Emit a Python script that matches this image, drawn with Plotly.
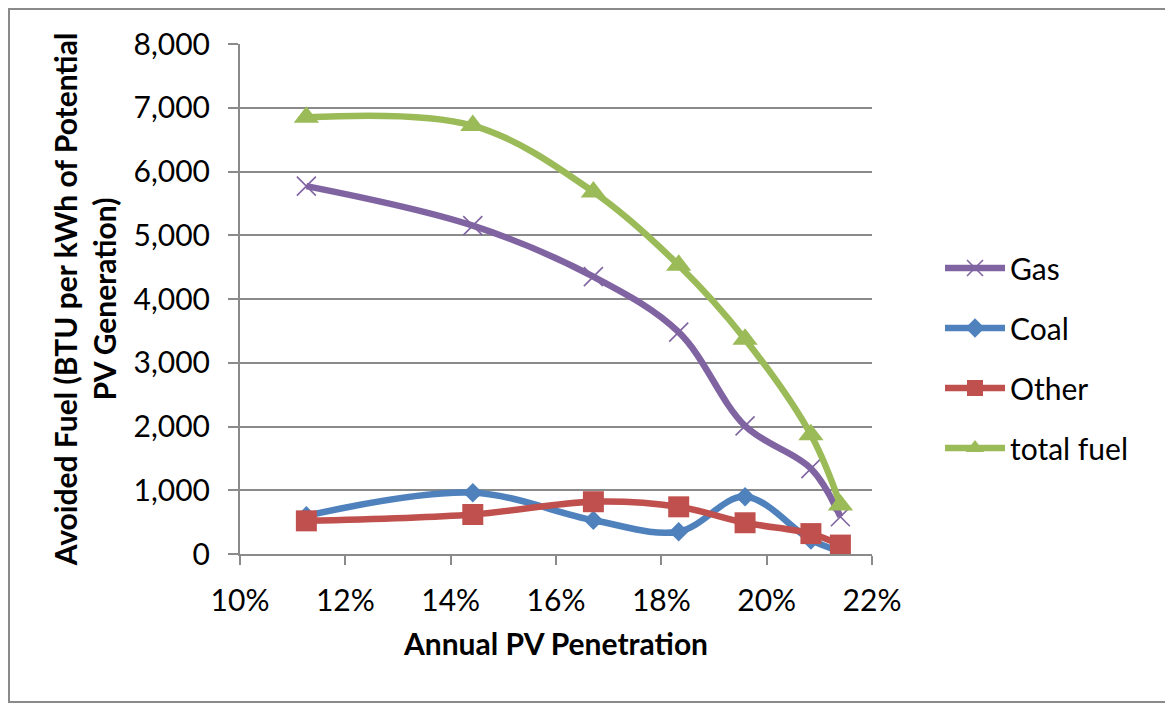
import plotly.graph_objects as go

# ---- data ----
penetration = [0.1126, 0.1442, 0.1671, 0.1833, 0.1959, 0.2084, 0.2140]
gas = [5770, 5150, 4350, 3480, 2010, 1340, 585]
coal = [600, 960, 530, 350, 900, 220, 40]
other = [520, 620, 820, 740, 490, 320, 140]
total_fuel = [6850, 6720, 5680, 4530, 3370, 1870, 770]

series_names = ["Gas", "Coal", "Other", "total fuel"]
x_tick_vals = [0.10, 0.12, 0.14, 0.16, 0.18, 0.20, 0.22]
x_tick_text = ["10%", "12%", "14%", "16%", "18%", "20%", "22%"]

# ---- styling ----
OFF = 8                      # page body margin of the browser
W, H = 1173 - OFF, 706 - OFF
# plot area in screen px
SL, SR, ST, SB = 240, 872, 44, 554
PL, PR, PT, PB = SL - OFF, SR - OFF, ST - OFF, SB - OFF
FONT = "Lato"
GRAY = "#8a8a8a"

def px_x(sx):
    return (sx - SL) / (SR - SL)

def px_y(sy):
    return (SB - sy) / (SB - ST)

fig = go.Figure()

fig.add_trace(go.Scatter(
    x=penetration, y=gas, name=series_names[0], mode="lines+markers",
    line=dict(color="#8064A2", width=6.5, shape="spline", smoothing=1),
    marker=dict(symbol="x-thin", size=19, color="#8064A2",
                line=dict(color="#8064A2", width=1.6)),
    legendgroup="g1"))
fig.add_trace(go.Scatter(
    x=penetration, y=coal, name=series_names[1], mode="lines+markers",
    line=dict(color="#4F81BD", width=6.5, shape="spline", smoothing=1),
    marker=dict(symbol="diamond", size=15, color="#4F81BD"),
    legendgroup="g2"))
fig.add_trace(go.Scatter(
    x=penetration, y=other, name=series_names[2], mode="lines+markers",
    line=dict(color="#C0504D", width=6.5, shape="spline", smoothing=1),
    marker=dict(symbol="square", size=21, color="#C0504D"),
    legendgroup="g3"))
fig.add_trace(go.Scatter(
    x=penetration, y=total_fuel, name=series_names[3], mode="lines+markers",
    line=dict(color="#9BBB59", width=6.5, shape="spline", smoothing=1),
    marker=dict(symbol="triangle-up", size=22, color="#9BBB59"),
    legendgroup="g4"))

frame = dict(color=GRAY, width=2)
shapes = [
    dict(type="rect", xref="paper", yref="paper",
         x0=px_x(9), x1=px_x(1167), y0=px_y(702), y1=px_y(9),
         line=frame, fillcolor="rgba(0,0,0,0)", layer="below"),
]

fig.update_layout(
    width=W, height=H, autosize=False,
    margin=dict(l=PL, r=W - PR, t=PT, b=H - PB, pad=0),
    paper_bgcolor="white", plot_bgcolor="white",
    font=dict(family=FONT, color="#000000", size=30),
    showlegend=True,
    legend=dict(x=px_x(940), xanchor="left", y=px_y(242), yanchor="top",
                font=dict(family=FONT, size=30, color="#000000"),
                tracegroupgap=18, itemwidth=60, bgcolor="rgba(0,0,0,0)"),
    shapes=shapes,
    xaxis=dict(
        range=[0.10, 0.22], tickmode="array", tickvals=x_tick_vals,
        ticktext=x_tick_text, showgrid=False, zeroline=False,
        showline=True, linecolor=GRAY, linewidth=2,
        ticks="outside", ticklen=9, tickwidth=2, tickcolor=GRAY,
        tickfont=dict(family=FONT, size=30, color="#000000"),
        ticklabelstandoff=10,
        title=dict(text="<b>Annual PV Penetration</b>", standoff=18,
                   font=dict(family=FONT, size=30, color="#000000")),
    ),
    yaxis=dict(
        range=[0, 8000], dtick=1000, tickformat=",", showgrid=True,
        gridcolor=GRAY, gridwidth=2, zeroline=False,
        showline=True, linecolor=GRAY, linewidth=2,
        ticks="outside", ticklen=10, tickwidth=2, tickcolor=GRAY,
        tickfont=dict(family=FONT, size=30, color="#000000"),
        ticklabelstandoff=12,
        title=dict(text="<b>Avoided Fuel (BTU per kWh of Potential<br>PV Generation)</b>",
                   standoff=8,
                   font=dict(family=FONT, size=30, color="#000000")),
    ),
)

fig.write_html("out.html")
